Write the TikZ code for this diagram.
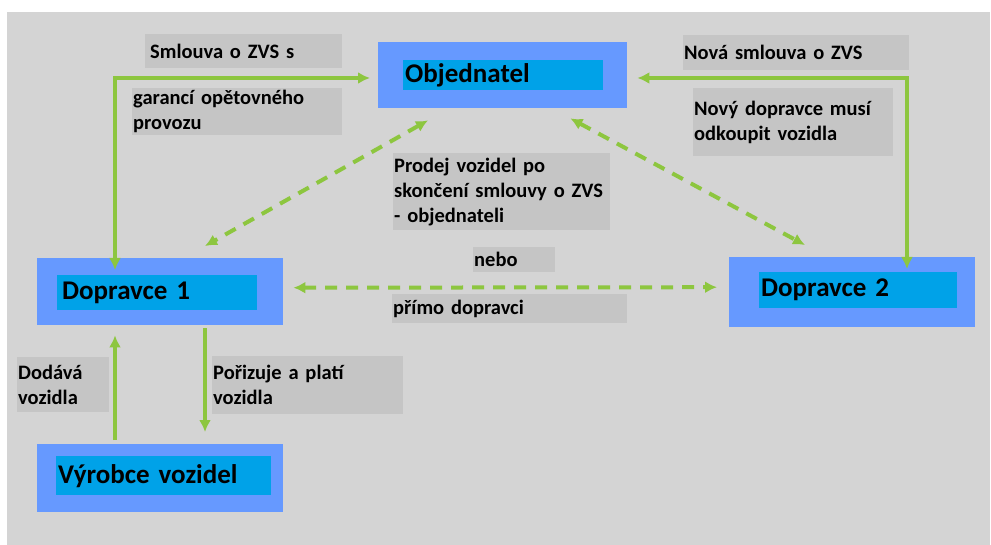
\documentclass[tikz,border=0pt]{standalone}
\usepackage{fontspec}
\setmainfont{Carlito}
\usetikzlibrary{positioning,arrows.meta}

\definecolor{bggray}{HTML}{D4D4D4}
\definecolor{lblgray}{HTML}{C5C5C5}
\definecolor{outerblue}{HTML}{6699FF}
\definecolor{innercyan}{HTML}{00A2E8}
\definecolor{flowgreen}{HTML}{8DC63F}

\begin{document}
\begin{tikzpicture}[
  x=1pt, y=-1pt,
  outerbox/.style={fill=outerblue,anchor=north west,inner sep=0pt},
  innerbox/.style={fill=innercyan,anchor=north west,inner xsep=2pt,inner ysep=0pt,
    align=left,font=\fontsize{27}{30}\selectfont\bfseries},
  lbl/.style={fill=lblgray,anchor=north west,inner xsep=1pt,inner ysep=0pt,
    align=left,font=\fontsize{20.5}{25}\selectfont\bfseries},
  flow/.style={draw=flowgreen,line width=4pt,
    arrows={-{Latex[length=12pt,width=12pt]}}},
  dflow/.style={flow,dash pattern=on 12pt off 9pt,
    arrows={{Latex[length=12pt,width=12pt]}-{Latex[length=12pt,width=12pt]}}},
  bflow/.style={flow,
    arrows={{Latex[length=12pt,width=12pt]}-{Latex[length=12pt,width=12pt]}}}
]

\fill[white] (0,0) rectangle (991,545);
\fill[bggray] (7,12) rectangle (990,545);
\useasboundingbox (0,0) rectangle (991,545);

% actors
\node[outerbox,minimum width=249,minimum height=66] (obj) at (378,42) {};
\node[innerbox,text width=196,minimum height=30] (objtxt) at (403,60) {Objednatel};
\node[outerbox,minimum width=246,minimum height=67] (dop1) at (37,258) {};
\node[innerbox,text width=196,minimum height=35] (dop1txt) at (57,275) {\hspace{3pt}Dopravce 1};
\node[outerbox,minimum width=246,minimum height=70] (dop2) at (729,257) {};
\node[innerbox,text width=194,minimum height=36] (dop2txt) at (759,272) {Dopravce 2};
\node[outerbox,minimum width=246,minimum height=68] (vyr) at (37,444) {};
\node[innerbox,text width=211,minimum height=39] (vyrtxt) at (56,456) {Výrobce vozidel};

% labels
\node[lbl,text width=195,minimum height=34] (l1) at (145,34) {\hspace{4pt}Smlouva o ZVS s};
\node[lbl,text width=208,minimum height=47] (l2) at (132,88) {garancí opětovného\\provozu};
\node[lbl,text width=224,minimum height=35] (l3) at (683,35) {Nová smlouva o ZVS};
\node[lbl,text width=198,minimum height=68] (l4) at (693,88) {Nový dopravce musí\\odkoupit vozidla\\[16pt]};
\node[lbl,text width=215,minimum height=77] (l5) at (393,153) {Prodej vozidel po\\skončení smlouvy o ZVS\\- objednateli};
\node[lbl,text width=80,minimum height=25] (l6) at (473,247) {nebo};
\node[lbl,text width=233,minimum height=29] (l7) at (392,294) {přímo dopravci};
\node[lbl,text width=90,minimum height=55] (l8) at (17,357) {Dodává\\vozidla};
\node[lbl,text width=189,minimum height=58] (l9) at (212,356) {Pořizuje a platí\\vozidla};

% connectors
\coordinate (cl) at (115,78);
\coordinate (cr) at (907,78);
\draw[bflow] ([xshift=-8]obj.west |- cl) -- (cl) -- ([yshift=-12]cl |- dop1.north);
\draw[bflow] ([xshift=10]obj.east |- cr) -- (cr) -- ([yshift=-12]cr |- dop2.north);
\draw[dflow] ([shift={(50,12)}]obj.south west) -- ([shift={(168,-12)}]dop1.north west);
\draw[dflow] ([shift={(-57,10)}]obj.south east) -- ([shift={(76,-12)}]dop2.north west);
\draw[dflow] ([shift={(10,-4)}]dop1.east) -- ([shift={(-12,-5)}]dop2.west);
\draw[flow] ([shift={(78,-4)}]vyr.north west) -- ([shift={(78,10)}]dop1.south west);
\draw[flow] ([shift={(168,3)}]dop1.south west) -- ([shift={(168,-12)}]vyr.north west);

\end{tikzpicture}
\end{document}
